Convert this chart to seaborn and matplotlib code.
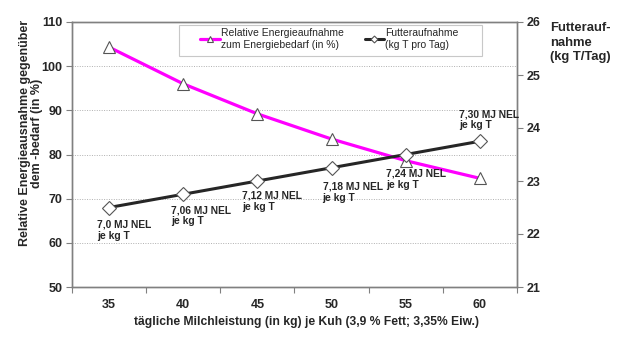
import matplotlib
matplotlib.use("Agg")
import matplotlib.pyplot as plt
import matplotlib.patches as mpatches
import seaborn as sns
import pandas as pd
import numpy as np

# Data
milk_kg = [35, 40, 45, 50, 55, 60]
rel_energy_pct = [104.3, 96.0, 89.2, 83.5, 78.6, 74.6]
feed_intake_kg = [22.5, 22.75, 23.0, 23.25, 23.5, 23.75]
nel_labels = ["7,0 MJ NEL\nje kg T", "7,06 MJ NEL\nje kg T", "7,12 MJ NEL\nje kg T",
              "7,18 MJ NEL\nje kg T", "7,24 MJ NEL\nje kg T", "7,30 MJ NEL\nje kg T"]

sns.set_theme(style="white")
plt.rcParams["font.family"] = ["Liberation Sans", "DejaVu Sans"]
plt.rcParams["font.weight"] = "bold"

W, H = 630, 337

df = pd.DataFrame({
    "pos": np.arange(len(milk_kg)),
    "milk": milk_kg,
    "energy": rel_energy_pct,
    "feed": feed_intake_kg,
})

fig = plt.figure(figsize=(W / 100, H / 100), dpi=100)
ax = fig.add_axes([72 / W, 1 - 287 / H, (517 - 72) / W, (287 - 22) / H])
ax2 = ax.twinx()

magenta = "#FF00FF"
dark = "#262626"

sns.lineplot(data=df, x="pos", y="energy", ax=ax, color=magenta, linewidth=2.3,
             marker="^", markersize=9, markerfacecolor="white",
             markeredgecolor="#555555", markeredgewidth=0.8,
             label="Relative Energieaufnahme\nzum Energiebedarf (in %)", legend=False, zorder=3)
sns.lineplot(data=df, x="pos", y="feed", ax=ax2, color=dark, linewidth=2.2,
             marker="D", markersize=7, markerfacecolor="white",
             markeredgecolor="#555555", markeredgewidth=0.8,
             label="Futteraufnahme\n(kg T pro Tag)", legend=False, zorder=3)

ax.set_xlim(-0.5, len(milk_kg) - 0.5)
ax.set_ylim(50, 110)
ax.set_yticks(range(50, 111, 10))
ax2.set_ylim(21, 26)
ax2.set_yticks(range(21, 27))

# category ticks between groups, labels centred
ax.set_xticks(np.arange(-0.5, len(milk_kg), 1.0))
ax.set_xticklabels([])
ax.set_xticks(np.arange(len(milk_kg)), minor=True)
ax.set_xticklabels([str(m) for m in milk_kg], minor=True)
ax.tick_params(axis="x", which="major", direction="out", length=4, width=0.8, color="#808080", bottom=True)
ax.tick_params(axis="x", which="minor", length=0, pad=9, labelsize=9)
ax.tick_params(axis="y", direction="out", length=4, width=0.8, color="#808080", left=True, labelsize=9, pad=3)
ax2.tick_params(axis="y", direction="out", length=4, width=0.8, color="#808080", right=True, labelsize=9, pad=3)

for lab in ax.get_xticklabels(minor=True) + ax.get_yticklabels() + ax2.get_yticklabels():
    lab.set_fontweight("bold")

ax.yaxis.grid(True, linestyle=(0, (1, 1.5)), color="#b0b0b0", linewidth=0.7)
ax.set_axisbelow(True)

for a in (ax, ax2):
    for s in a.spines.values():
        s.set_color("#808080")
        s.set_linewidth(1.0)

ax.set_xlabel("")
ax.set_ylabel("")
ax2.set_ylabel("")
fig.text(307 / W, 1 - 322 / H,
         "tägliche Milchleistung (in kg) je Kuh (3,9 % Fett; 3,35% Eiw.)",
         fontsize=8.7, fontweight="bold", ha="center", va="center")
fig.text(31 / W, 1 - 133 / H, "Relative Energieausnahme gegenüber\ndem -bedarf (in %)",
         fontsize=9, fontweight="bold", ha="center", va="center", rotation=90,
         linespacing=1.05, multialignment="center")
fig.text(550 / W, 1 - 22 / H, "Futterauf-\nnahme\n(kg T/Tag)", fontsize=9.4,
         fontweight="bold", ha="left", va="top", linespacing=1.3)

# NEL annotations next to the feed-intake points (offsets in pixels)
offsets = [(-12, -12), (-12, -11), (-15, -10), (-9, -14), (-20, -14), (-21, 11)]
for i, (lab, off) in enumerate(zip(nel_labels, offsets)):
    ax2.annotate(lab, xy=(i, feed_intake_kg[i]), xytext=off, textcoords="offset pixels",
                 ha="left", va="top" if off[1] < 0 else "bottom", fontsize=7.4,
                 fontweight="bold", linespacing=1.15, zorder=5)

h1, l1 = ax.get_legend_handles_labels()
h2, l2 = ax2.get_legend_handles_labels()
leg = ax2.legend(h1 + h2, l1 + l2, loc="upper left",
                 bbox_to_anchor=(200 / W, 1 - 28 / H), bbox_transform=fig.transFigure,
                 ncol=2, fontsize=7.5, frameon=False, handlelength=1.9,
                 handletextpad=0.1, columnspacing=2.0, borderpad=0.0, borderaxespad=0.0,
                 markerscale=0.5, labelspacing=0.2)
for t in leg.get_texts():
    t.set_fontweight("normal")
    t.set_ha("left")
fig.patches.append(mpatches.Rectangle((179 / W, 1 - 56 / H), (482 - 179) / W, (56 - 25) / H,
                                      transform=fig.transFigure, facecolor="white",
                                      edgecolor="#c8c8c8", linewidth=0.8, zorder=0.5))
ax.set_zorder(1)
ax2.set_zorder(2)
ax.patch.set_visible(False)
ax2.patch.set_visible(False)

fig.savefig("out.png", dpi=100)
